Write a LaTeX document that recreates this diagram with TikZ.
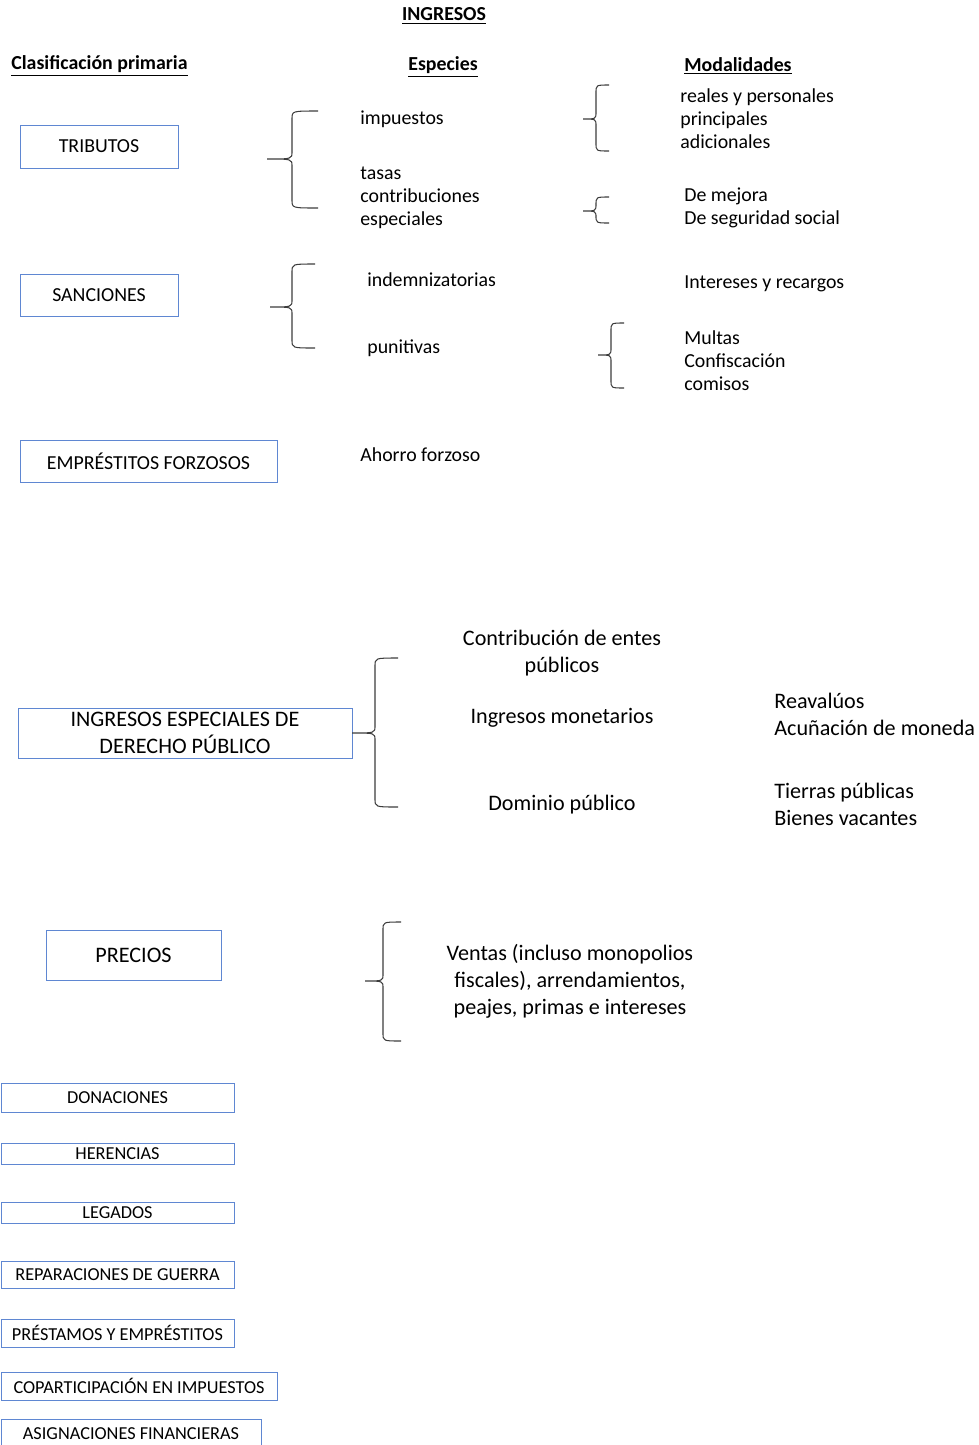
\documentclass[tikz,border=0pt]{standalone}
\usepackage{fontspec}
\setmainfont{Carlito}
\usepackage{tikz}

\definecolor{azul}{RGB}{95,135,210}
\definecolor{gris}{RGB}{60,60,60}

% llave: punta x, eje x, extremo x, arriba y, medio y, abajo y
\newcommand{\llave}[6]{%
\draw[llavetrazo] (#3,#4) .. controls (#2,#4) .. (#2,#4+8) -- (#2,#5-7)
  .. controls (#2,#5) .. (#1,#5) .. controls (#2,#5) .. (#2,#5+7)
  -- (#2,#6-8) .. controls (#2,#6) .. (#3,#6);}

\tikzset{
caja/.style={draw=azul, line width=0.5pt, inner sep=0pt, outer sep=0pt, align=center, font=\fontsize{11.3}{13}\selectfont},
cajagrande/.style={caja, font=\fontsize{12.6}{15.3}\selectfont},
cajachica/.style={caja, font=\fontsize{10.4}{12}\selectfont},
titulo/.style={inner sep=0pt, font=\bfseries\fontsize{11.3}{13}\selectfont},
texto/.style={inner sep=0pt, anchor=west, align=left, font=\fontsize{11.3}{13}\selectfont},
textogrande/.style={inner sep=0pt, align=center, font=\fontsize{12.6}{15.3}\selectfont},
llavetrazo/.style={draw=gris, line width=0.6pt}
}

\begin{document}
\begin{tikzpicture}[x=0.02cm,y=-0.02cm]
\useasboundingbox (0,0) rectangle (979,1445);

% encabezados
\node[titulo] (ingresos) at (444,16) {\underline{INGRESOS}};
\node[titulo, anchor=west] (clasif) at (11,66) {\underline{Clasificación primaria}};
\node[titulo] (especies) at (443,67) {\underline{Especies}};
\node[titulo, anchor=west] (modal) at (684,66) {\underline{Modalidades}};

% clasificacion primaria
\node[caja, minimum width=3.16cm, minimum height=0.86cm] (tributos) at (99,146.5) {TRIBUTOS};
\node[caja, minimum width=3.16cm, minimum height=0.84cm] (sanciones) at (99,295) {SANCIONES};
\node[caja, minimum width=5.14cm, minimum height=0.84cm] (emprestitos) at (148.5,461) {EMPRÉSTITOS FORZOSOS};
\node[cajagrande, minimum width=6.68cm, minimum height=1cm] (especiales) at (185,733) {INGRESOS ESPECIALES DE\\DERECHO PÚBLICO};
\node[cajagrande, minimum width=3.5cm, minimum height=1cm] (precios) at (133.5,955) {PRECIOS};

% otros ingresos
\node[cajachica, minimum width=4.66cm, minimum height=0.58cm] (donaciones) at (117.5,1097.5) {DONACIONES};
\node[cajachica, minimum width=4.66cm, minimum height=0.42cm] (herencias) at (117.5,1153.5) {HERENCIAS};
\node[cajachica, minimum width=4.66cm, minimum height=0.42cm] (legados) at (117.5,1212.5) {LEGADOS};
\node[cajachica, minimum width=4.66cm, minimum height=0.54cm] (reparaciones) at (117.5,1274.5) {REPARACIONES DE GUERRA};
\node[cajachica, minimum width=4.66cm, minimum height=0.56cm] (prestamos) at (117.5,1333) {PRÉSTAMOS Y EMPRÉSTITOS};
\node[cajachica, minimum width=5.52cm, minimum height=0.56cm] (coparticipacion) at (139,1386) {COPARTICIPACIÓN EN IMPUESTOS};
\node[cajachica, minimum width=5.2cm, minimum height=0.6cm] (asignaciones) at (131,1434) {ASIGNACIONES FINANCIERAS};

% especies
\node[texto] (impuestos) at (360,119) {impuestos};
\node[texto] (tasas) at (360,198) {tasas\\contribuciones\\especiales};
\node[texto] (indemnizatorias) at (367,280) {indemnizatorias};
\node[texto] (punitivas) at (367,348) {punitivas};
\node[texto] (ahorro) at (360,455) {Ahorro forzoso};

% modalidades
\node[texto] (reales) at (680,119) {reales y personales\\principales\\adicionales};
\node[texto] (mejora) at (684,208) {De mejora\\De seguridad social};
\node[texto] (intereses) at (684,284) {Intereses y recargos};
\node[texto] (multas) at (684,361) {Multas\\Confiscación\\comisos};

% ingresos especiales de derecho publico
\node[textogrande] (entes) at (562,653.5) {Contribución de entes\\públicos};
\node[textogrande] (monetarios) at (562,718) {Ingresos monetarios};
\node[textogrande] (dominio) at (562,805) {Dominio público};
\node[textogrande, anchor=west, align=left] (reavaluos) at (774,714) {Reavalúos\\Acuñación de moneda};
\node[textogrande, anchor=west, align=left] (tierras) at (774,804) {Tierras públicas\\Bienes vacantes};

% precios
\node[textogrande] (ventas) at (570,981.5) {Ventas (incluso monopolios\\fiscales), arrendamientos,\\peajes, primas e intereses};

% llaves
\llave{267}{292}{318}{111}{159}{208}
\llave{583}{596}{609}{85}{119}{151}
\llave{583}{596}{609}{197}{211}{223}
\llave{270}{292}{315}{264}{307}{348}
\llave{598}{611}{624}{323}{355}{388}
\llave{352}{375}{398}{658}{733}{807}
\llave{365}{383}{401}{922}{981}{1041}
\end{tikzpicture}
\end{document}
